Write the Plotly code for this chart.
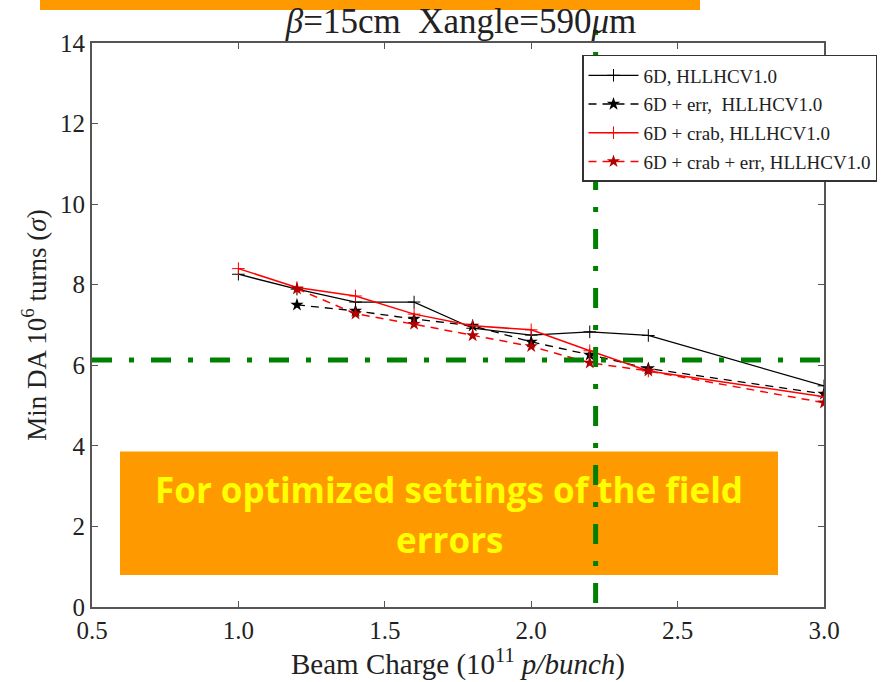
import plotly.graph_objects as go

# ---- data ----
charge_6d = [1.0, 1.2, 1.4, 1.6, 1.8, 2.0, 2.2, 2.4, 3.0]
da_6d = [8.26, 7.89, 7.57, 7.57, 6.92, 6.75, 6.83, 6.74, 5.49]

charge_6d_err = [1.2, 1.4, 1.6, 1.8, 2.0, 2.2, 2.4, 3.0]
da_6d_err = [7.5, 7.35, 7.15, 6.98, 6.58, 6.26, 5.92, 5.29]

charge_crab = [1.0, 1.2, 1.4, 1.6, 1.8, 2.0, 2.2, 2.4, 3.0]
da_crab = [8.4, 7.93, 7.72, 7.27, 6.98, 6.88, 6.36, 5.86, 5.22]

charge_crab_err = [1.2, 1.4, 1.6, 1.8, 2.0, 2.2, 2.4, 3.0]
da_crab_err = [7.9, 7.28, 7.02, 6.74, 6.47, 6.06, 5.86, 5.07]

threshold_da = 6.13
threshold_charge = 2.22

names = ["6D, HLLHCV1.0", "6D + err,  HLLHCV1.0",
         "6D + crab, HLLHCV1.0", "6D + crab + err, HLLHCV1.0"]

x_ticks = [0.5, 1.0, 1.5, 2.0, 2.5, 3.0]
x_tick_labels = ["0.5", "1.0", "1.5", "2.0", "2.5", "3.0"]
y_ticks = [0, 2, 4, 6, 8, 10, 12, 14]

SERIF = "Liberation Serif, Times New Roman, serif"
GREEN = "rgb(0,128,0)"
ORANGE = "#FF9900"

fig = go.Figure()

fig.add_trace(go.Scatter(
    x=charge_6d, y=da_6d, name=names[0], mode="lines+markers", legendgroup="a",
    line=dict(color="black", width=1.3),
    marker=dict(symbol="cross-thin", size=9, line=dict(color="black", width=1))))
fig.add_trace(go.Scatter(
    x=charge_6d_err, y=da_6d_err, name=names[1], mode="lines+markers", legendgroup="b",
    line=dict(color="black", width=1.3, dash="8px,6px"),
    marker=dict(symbol="star", size=10, color="black")))
fig.add_trace(go.Scatter(
    x=charge_crab, y=da_crab, name=names[2], mode="lines+markers", legendgroup="c",
    line=dict(color="red", width=1.5),
    marker=dict(symbol="cross-thin", size=9, line=dict(color="red", width=1))))
fig.add_trace(go.Scatter(
    x=charge_crab_err, y=da_crab_err, name=names[3], mode="lines+markers", legendgroup="d",
    line=dict(color="red", width=1.5, dash="8px,6px"),
    marker=dict(symbol="star", size=10, color="#B00000")))

# orange highlight box
fig.add_shape(type="rect", xref="paper", yref="paper",
              x0=(120 - 92) / 732, x1=(778 - 92) / 732,
              y0=(609 - 577) / 566, y1=(609 - 453) / 566,
              fillcolor=ORANGE, line=dict(width=0), layer="above")
# top orange bar
fig.add_shape(type="rect", xref="paper", yref="paper",
              x0=(40 - 92) / 732, x1=(700 - 92) / 732,
              y0=(609 - 10) / 566, y1=(609 + 2) / 566,
              fillcolor=ORANGE, line=dict(width=0), layer="above")

# green threshold lines
green_dash = "20px,17px,5px,17px"
fig.add_shape(type="line", xref="paper", yref="y",
              x0=0, x1=(830 - 92) / 732, y0=threshold_da, y1=threshold_da,
              line=dict(color=GREEN, width=5, dash=green_dash), layer="above")
fig.add_shape(type="line", xref="x", yref="paper",
              x0=threshold_charge, x1=threshold_charge,
              y0=(609 - 605) / 566, y1=(609 - 30) / 566,
              line=dict(color=GREEN, width=5, dash=green_dash), layer="above")

fig.add_annotation(xref="paper", yref="paper",
                   x=(449 - 92) / 732, y=(609 - 491) / 566,
                   xanchor="center", yanchor="middle",
                   text="<b>For optimized settings of the field</b>",
                   showarrow=False,
                   font=dict(family="Open Sans", size=35, color="#FFFF00"))
fig.add_annotation(xref="paper", yref="paper",
                   x=(449 - 92) / 732, y=(609 - 541) / 566,
                   xanchor="center", yanchor="middle",
                   text="<b>errors</b>",
                   showarrow=False,
                   font=dict(family="Open Sans", size=35, color="#FFFF00"))

fig.update_layout(
    width=895, height=682,
    margin=dict(l=92, r=71, t=43, b=73),
    paper_bgcolor="white", plot_bgcolor="white",
    font=dict(family=SERIF, color="#222"),
    title=dict(text="<i>β</i>=15cm\u00a0\u00a0Xangle=590<i>μ</i>m",
               x=461 / 895, xanchor="center", y=1 - 21 / 682, yanchor="middle",
               font=dict(family=SERIF, size=35, color="#222")),
    showlegend=True,
    legend=dict(x=(582 - 92) / 732, y=(609 - 55) / 566,
                xanchor="left", yanchor="top",
                bgcolor="white", bordercolor="#333", borderwidth=1.5,
                font=dict(family=SERIF, size=19, color="#222"),
                tracegroupgap=1, itemwidth=50),
)
fig.update_xaxes(range=[0.5, 3.0], tickvals=x_ticks, ticktext=x_tick_labels,
                 ticks="inside", ticklen=6, tickcolor="#555",
                 showline=True, linecolor="#555", linewidth=2, mirror="ticks",
                 showgrid=False, zeroline=False,
                 tickfont=dict(family=SERIF, size=25, color="#222"),
                 title=dict(text="Beam Charge (10<sup>11</sup> <i>p/bunch</i>)",
                            font=dict(family=SERIF, size=29, color="#222"),
                            standoff=6))
fig.update_yaxes(range=[0, 14], tickvals=y_ticks,
                 ticks="inside", ticklen=6, tickcolor="#555",
                 showline=True, linecolor="#555", linewidth=2, mirror="ticks",
                 showgrid=False, zeroline=False,
                 tickfont=dict(family=SERIF, size=25, color="#222"),
                 title=dict(text="Min DA 10<sup>6</sup> turns (<i>σ</i>)",
                            font=dict(family=SERIF, size=27, color="#222"),
                            standoff=6))

fig.write_html("out.html")
